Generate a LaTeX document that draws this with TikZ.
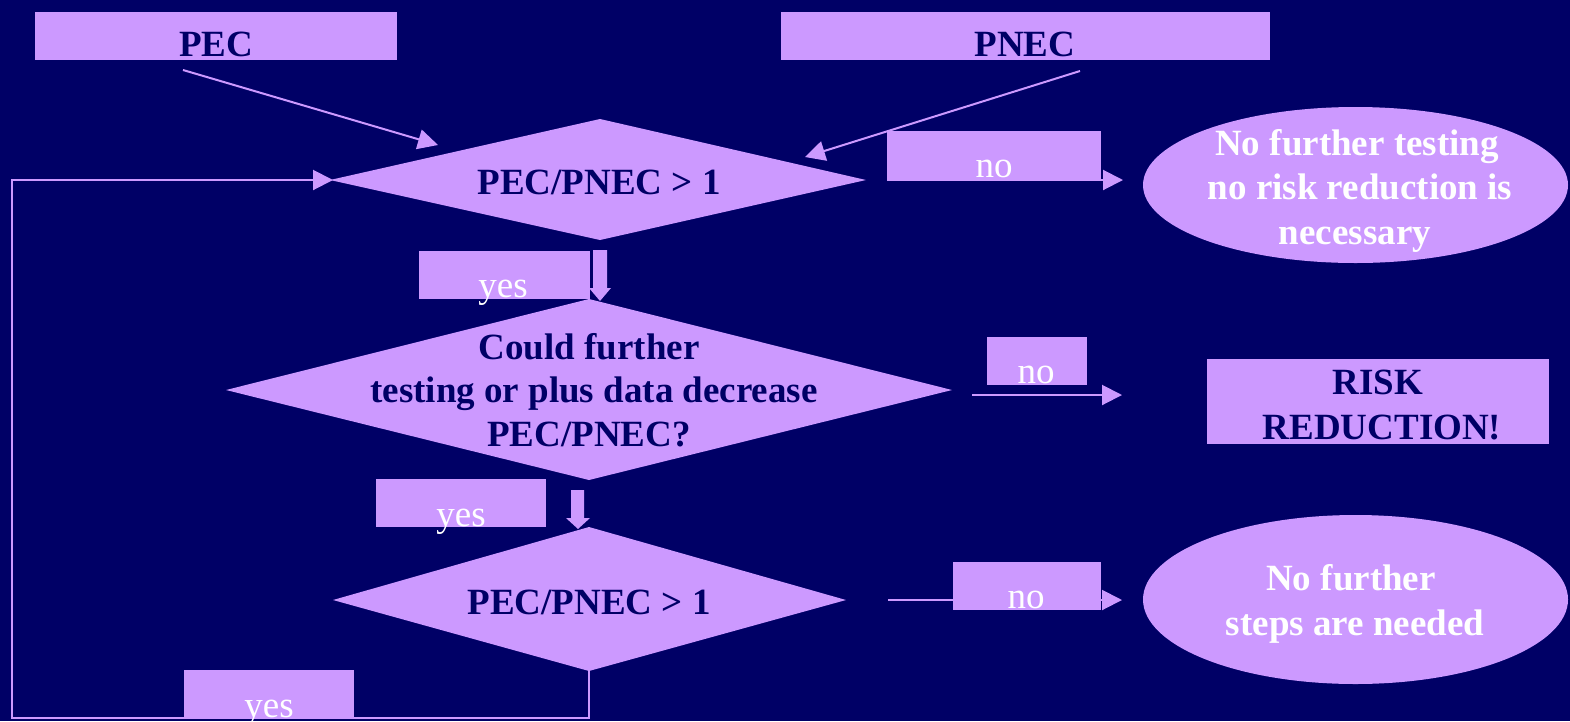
\documentclass[tikz,border=0pt]{standalone}
\usepackage{fontspec}
\setmainfont{Liberation Serif}
\usetikzlibrary{arrows.meta,shapes.geometric}
\definecolor{bg}{HTML}{000066}
\definecolor{lil}{HTML}{CC99FF}
\begin{document}
\begin{tikzpicture}[x=1pt,y=-1pt,
  box/.style={fill=lil,draw=none,inner sep=0,outer sep=0,rectangle},
  btxt/.style={text=bg,font=\fontsize{37}{44}\selectfont\bfseries,inner sep=0,anchor=base},
  wbtxt/.style={text=white,font=\fontsize{37}{44}\selectfont\bfseries,inner sep=0,anchor=base},
  wtxt/.style={text=white,font=\fontsize{37}{44}\selectfont,inner sep=0,anchor=base},
  conn/.style={draw=lil,line width=2pt,-{Triangle[length=20pt,width=20pt]}},
  plain/.style={draw=lil,line width=2pt},
  blk/.style={fill=lil,draw=none},
  oval/.style={ellipse,fill=lil,draw=none,inner sep=0,outer sep=0}]
\useasboundingbox (0,0) rectangle (1570,721);
\fill[bg] (0,0) rectangle (1570,721);

% diamonds
\fill[lil] (330,180) -- (600,119) -- (866,180) -- (600,240) -- cycle;
\fill[lil] (226,390) -- (589,299) -- (952,390) -- (589,480) -- cycle;
\fill[lil] (333,600) -- (589,527) -- (846,600) -- (589,671) -- cycle;
\coordinate (d1w) at (333,180);
\coordinate (d3s) at (589,671);

% coordinates for free connector ends
\coordinate (pecA) at (183,70);
\coordinate (pecB) at (438,145);
\coordinate (pnecA) at (1080,71);
\coordinate (pnecB) at (805,157);
\coordinate (no1A) at (887,180);
\coordinate (no1B) at (1123,180);
\coordinate (no2A) at (972,395);
\coordinate (no2B) at (1122,395);
\coordinate (no3A) at (888,600);
\coordinate (no3B) at (1122,600);
\coordinate (lp1) at (589,718);
\coordinate (lp2) at (12,718);
\coordinate (lp3) at (12,180);

% connectors
\draw[conn] (pecA) -- (pecB);
\draw[conn] (pnecA) -- (pnecB);
\draw[conn] (no1A) -- (no1B);
\draw[conn] (no2A) -- (no2B);
\draw[conn] (no3A) -- (no3B);
\draw[conn] (d3s) -- (lp1) -- (lp2) -- (lp3) -- (d1w);

% block arrows
\fill[blk] (593,250) -- (607,250) -- (607,288) -- (611,288) -- (600,301) -- (589,288) -- (593,288) -- cycle;
\fill[blk] (571,490) -- (584,490) -- (584,518) -- (590,518) -- (578,529) -- (566,518) -- (571,518) -- cycle;

% boxes
\node[box,minimum width=362,minimum height=48] (pecbox) at (216,36) {};
\node[box,minimum width=489,minimum height=48] (pnecbox) at (1025.5,36) {};
\node[box,minimum width=214,minimum height=49] (no1box) at (994,155.5) {};
\node[box,minimum width=171,minimum height=48] (yes1box) at (504.5,275) {};
\node[box,minimum width=100,minimum height=48] (no2box) at (1037,361) {};
\node[box,minimum width=342,minimum height=85] (riskbox) at (1378,401.5) {};
\node[box,minimum width=170,minimum height=48] (yes2box) at (461,503) {};
\node[box,minimum width=148,minimum height=48] (no3box) at (1027,586) {};
\node[box,minimum width=170,minimum height=48] (yes4box) at (269,694) {};

% ellipses
\node[oval,minimum width=425,minimum height=156] (e1) at (1355.5,185) {};
\node[oval,minimum width=425,minimum height=169] (e3) at (1355.5,599.5) {};

% texts
\node[btxt] (tpec) at (216,56) {PEC};
\node[btxt] (tpnec) at (1025,56) {PNEC};
\node[btxt] (td1) at (599,194) {PEC/PNEC > 1};
\node[btxt] (td2a) at (589,359) {Could further};
\node[btxt] (td2b) at (594,402) {testing or plus data decrease};
\node[btxt] (td2c) at (589,446) {PEC/PNEC?};
\node[btxt] (td3) at (589,614) {PEC/PNEC > 1};
\node[btxt] (trisk1) at (1378,394) {RISK};
\node[btxt] (trisk2) at (1382,439) {REDUCTION!};
\node[wbtxt] (te1a) at (1357,155) {No further testing};
\node[wbtxt] (te1b) at (1360,199) {no risk reduction is};
\node[wbtxt] (te1c) at (1355,244) {necessary};
\node[wbtxt] (te3a) at (1351,590) {No further};
\node[wbtxt] (te3b) at (1355,635) {steps are needed};
\node[wtxt] (tno1) at (994,177) {no};
\node[wtxt] (tno2) at (1036,383) {no};
\node[wtxt] (tno3) at (1026,608) {no};
\node[wtxt] (tyes1) at (503,297) {yes};
\node[wtxt] (tyes2) at (461,526) {yes};
\node[wtxt] (tyes4) at (269,717) {yes};
\end{tikzpicture}
\end{document}
